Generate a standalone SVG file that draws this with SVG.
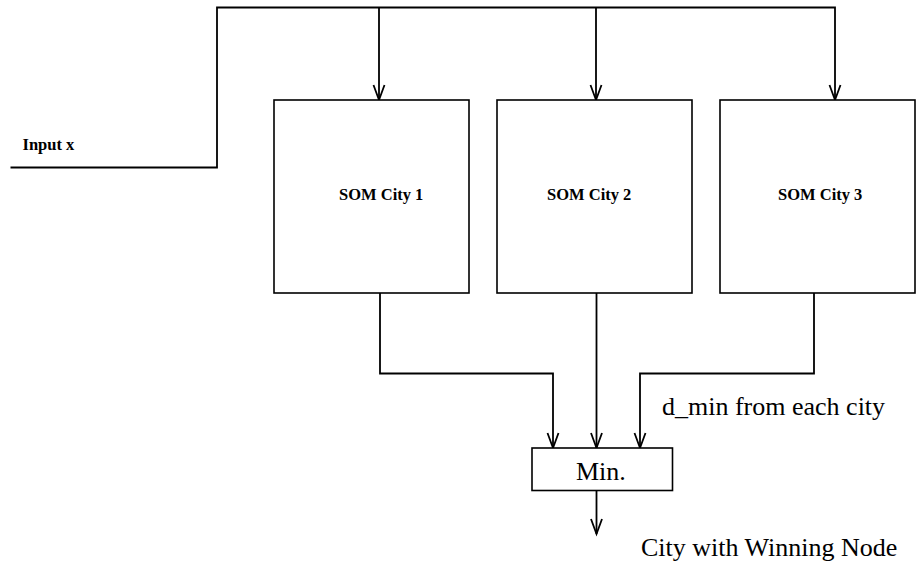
<svg xmlns="http://www.w3.org/2000/svg" width="916" height="564" viewBox="0 0 916 564">
<style>
.ln{fill:none;stroke:#000;stroke-width:1.8}
.bx{fill:#fff;stroke:#000;stroke-width:1.6}
.sm{font-family:"Liberation Serif","Times New Roman",serif;font-weight:bold;font-size:16.5px;fill:#000}
.lg{font-family:"Liberation Serif","Times New Roman",serif;font-size:26px;fill:#000}
</style>
<defs>
<marker id="ah" viewBox="-2 -8 20 16" refX="15" refY="0" markerUnits="userSpaceOnUse" markerWidth="20" markerHeight="16" orient="auto" overflow="visible">
<path d="M0,-5.5 L15,0 L0,5.5" fill="none" stroke="#000" stroke-width="1.8"/>
</marker>
</defs>
<rect width="916" height="564" fill="#fff"/>
<g id="connectors">
<path class="ln" d="M10.5,167.5 H217 V7.5 H835 V100" marker-end="url(#ah)"/>
<path class="ln" d="M379,7.5 V100" marker-end="url(#ah)"/>
<path class="ln" d="M596,7.5 V100" marker-end="url(#ah)"/>
<path class="ln" d="M380,293 V373.5 H553 V448" marker-end="url(#ah)"/>
<path class="ln" d="M596.5,293 V448" marker-end="url(#ah)"/>
<path class="ln" d="M814,293 V373.5 H640 V448" marker-end="url(#ah)"/>
<path class="ln" d="M596.5,490.5 V534" marker-end="url(#ah)"/>
</g>
<g id="input-label"><text class="sm" x="22.5" y="150" font-size="15.5">Input x</text></g>
<g id="som1">
<rect class="bx" x="274" y="100" width="195" height="193"/>
<text class="sm" x="339" y="199.5">SOM City 1</text>
</g>
<g id="som2">
<rect class="bx" x="497" y="100" width="195" height="193"/>
<text class="sm" x="547" y="199.5">SOM City 2</text>
</g>
<g id="som3">
<rect class="bx" x="720" y="100" width="195" height="193"/>
<text class="sm" x="778" y="199.5">SOM City 3</text>
</g>
<g id="min">
<rect class="bx" x="532" y="448" width="140.5" height="42.5"/>
<text class="lg" x="576" y="480" font-size="25">Min.</text>
</g>
<g id="labels">
<text class="lg" x="662" y="415">d_min from each city</text>
<text class="lg" x="641" y="556">City with Winning Node</text>
</g>
</svg>
